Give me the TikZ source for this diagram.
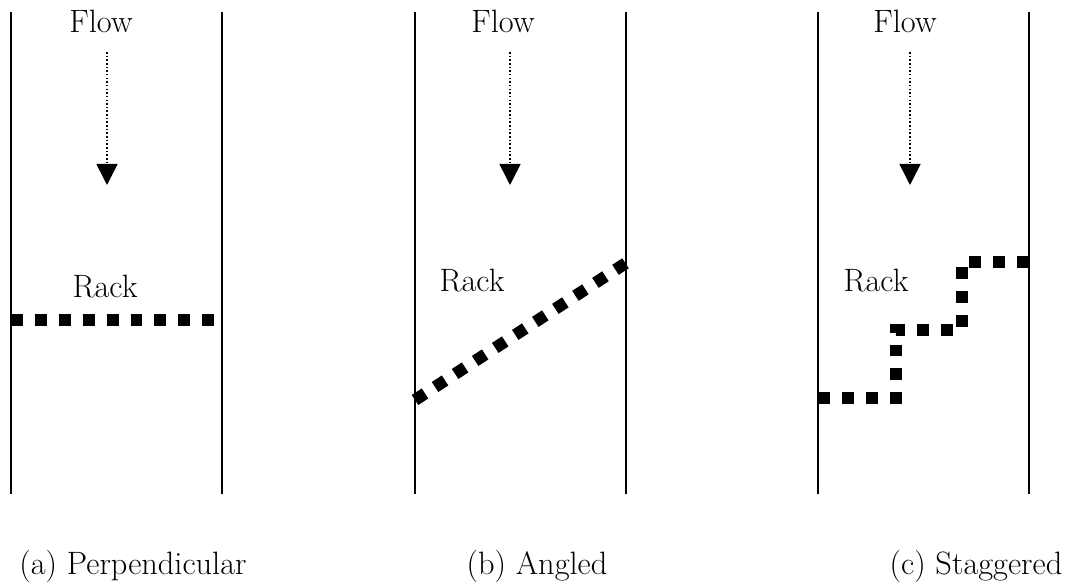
\documentclass[tikz,border=0pt]{standalone}
\usetikzlibrary{arrows.meta}
\begin{document}
\begin{tikzpicture}[x=0.025cm, y=-0.025cm,
	wall/.style={line width=1.1pt},
	rack/.style={line width=8.5pt, dash pattern=on 8.5pt off 8.5pt},
	flow/.style={line width=1.1pt, dash pattern=on 1.1pt off 1.5pt, -{Triangle[width=15pt,length=15pt]}},
	txt/.style={anchor=base, inner sep=0pt, font=\fontsize{23}{27}\selectfont}]
	
	\useasboundingbox (0,0) rectangle (1068,582);
	
	% walls of the three channels
	\coordinate (a1) at (11,12);  \coordinate (a2) at (11,494);
	\coordinate (a3) at (222,12); \coordinate (a4) at (222,494);
	\coordinate (b1) at (415,12); \coordinate (b2) at (415,494);
	\coordinate (b3) at (626,12); \coordinate (b4) at (626,494);
	\coordinate (c1) at (818,12); \coordinate (c2) at (818,494);
	\coordinate (c3) at (1029,12); \coordinate (c4) at (1029,494);
	\draw [wall] (a1) -- (a2);
	\draw [wall] (a3) -- (a4);
	\draw [wall] (b1) -- (b2);
	\draw [wall] (b3) -- (b4);
	\draw [wall] (c1) -- (c2);
	\draw [wall] (c3) -- (c4);
	
	% flow labels and arrows
	\node (flowa) [txt] at (101,33) {Flow};
	\node (flowb) [txt] at (503,33) {Flow};
	\node (flowc) [txt] at (905,33) {Flow};
	\coordinate (fa1) at (107,52);  \coordinate (fa2) at (107,185);
	\coordinate (fb1) at (510,52);  \coordinate (fb2) at (510,185);
	\coordinate (fc1) at (910,52);  \coordinate (fc2) at (910,185);
	\draw [flow] (fa1) -- (fa2);
	\draw [flow] (fb1) -- (fb2);
	\draw [flow] (fc1) -- (fc2);
	
	% racks
	\node (racka) [txt] at (105,298) {Rack};
	\node (rackb) [txt] at (472,292) {Rack};
	\node (rackc) [txt] at (876,292) {Rack};
	\coordinate (ra1) at (11,320);  \coordinate (ra2) at (222,320);
	\coordinate (rb1) at (415,400); \coordinate (rb2) at (626,263);
	\coordinate (rc1) at (818,398); \coordinate (rc2) at (896,398);
	\coordinate (rc3) at (896,330); \coordinate (rc4) at (962,330);
	\coordinate (rc5) at (962,262); \coordinate (rc6) at (1029,262);
	\draw [rack] (ra1) -- (ra2);
	\draw [rack] (rb1) -- (rb2);
	\draw [rack] (rc1) -- (rc2) -- (rc3) -- (rc4) -- (rc5) -- (rc6);
	
	% captions
	\node (capa) [txt] at (133,575) {(a) Perpendicular};
	\node (capb) [txt] at (537,575) {(b) Angled};
	\node (capc) [txt] at (976,575) {(c) Staggered};
\end{tikzpicture}
\end{document}
